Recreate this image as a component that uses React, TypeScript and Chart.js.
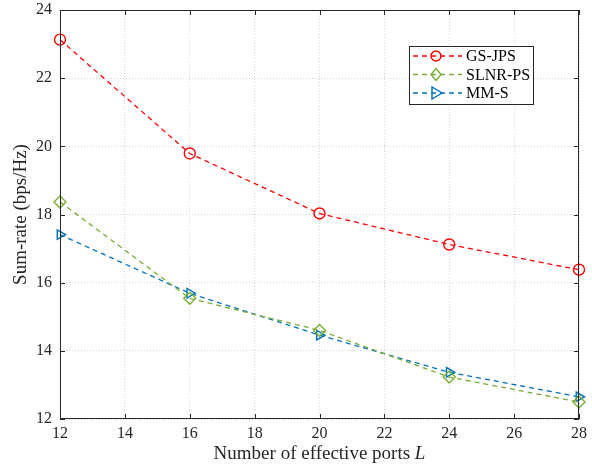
import React, { useEffect, useRef } from "react";
import { Chart, registerables } from "chart.js";

Chart.register(...registerables);

const portsL = [12, 16, 20, 24, 28];
const gsJps = [23.13, 19.79, 18.03, 17.12, 16.38];
const slnrPs = [18.37, 15.54, 14.6, 13.23, 12.5];
const mmS = [17.41, 15.69, 14.46, 13.37, 12.65];
const xTicks = [12, 14, 16, 18, 20, 22, 24, 26, 28];
const yTicks = [12, 14, 16, 18, 20, 22, 24];

const seriesNames = ["GS-JPS", "SLNR-PS", "MM-S"];
const seriesColors = ["#FF0000", "#77AC30", "#0072BD"];
const xTitleMain = "Number of effective ports ";
const xTitleVar = "L";
const yTitle = "Sum-rate (bps/Hz)";
const FONT = "'Liberation Serif', 'Times New Roman', serif";

function drawMarker(ctx: CanvasRenderingContext2D, kind: number, x: number, y: number, color: string) {
  ctx.save();
  ctx.strokeStyle = color;
  ctx.lineWidth = 1.4;
  ctx.setLineDash([]);
  ctx.beginPath();
  if (kind === 0) {
    ctx.arc(x, y, 5, 0, Math.PI * 2);
  } else if (kind === 1) {
    ctx.moveTo(x, y - 6);
    ctx.lineTo(x + 5, y);
    ctx.lineTo(x, y + 6);
    ctx.lineTo(x - 5, y);
    ctx.closePath();
  } else {
    ctx.moveTo(x + 6, y);
    ctx.lineTo(x - 4, y - 6);
    ctx.lineTo(x - 4, y + 6);
    ctx.closePath();
  }
  ctx.stroke();
  ctx.restore();
}

const framePlugin = {
  id: "framePlugin",
  afterDraw(chart: any) {
    const { ctx, chartArea } = chart;
    const { left, right, top, bottom } = chartArea;
    const xs = chart.scales.x;
    const ys = chart.scales.y;
    ctx.save();
    ctx.strokeStyle = "#262626";
    ctx.lineWidth = 1;
    ctx.setLineDash([]);
    ctx.strokeRect(Math.round(left) + 0.5, Math.round(top) + 0.5, Math.round(right - left) - 1, Math.round(bottom - top) - 1);
    ctx.beginPath();
    xTicks.forEach((t) => {
      const px = Math.round(xs.getPixelForValue(t)) + 0.5;
      ctx.moveTo(px, bottom);
      ctx.lineTo(px, bottom - 5);
      ctx.moveTo(px, top);
      ctx.lineTo(px, top + 5);
    });
    yTicks.forEach((t) => {
      const py = Math.round(ys.getPixelForValue(t)) + 0.5;
      ctx.moveTo(left, py);
      ctx.lineTo(left + 5, py);
      ctx.moveTo(right, py);
      ctx.lineTo(right - 5, py);
    });
    ctx.stroke();

    // axis titles
    ctx.fillStyle = "#262626";
    ctx.textBaseline = "middle";
    ctx.font = `19px ${FONT}`;
    const w1 = ctx.measureText(xTitleMain).width;
    ctx.font = `italic 19px ${FONT}`;
    const w2 = ctx.measureText(xTitleVar).width;
    const cx = (left + right) / 2;
    const sx = cx - (w1 + w2) / 2;
    ctx.textAlign = "left";
    ctx.font = `19px ${FONT}`;
    ctx.fillText(xTitleMain, sx, 454);
    ctx.font = `italic 19px ${FONT}`;
    ctx.fillText(xTitleVar, sx + w1, 454);

    ctx.save();
    ctx.translate(21, (top + bottom) / 2);
    ctx.rotate(-Math.PI / 2);
    ctx.textAlign = "center";
    ctx.font = `19px ${FONT}`;
    ctx.fillText(yTitle, 0, 0);
    ctx.restore();

    // legend
    const bx = 409, by = 46, bw = 124, bh = 58;
    ctx.fillStyle = "#ffffff";
    ctx.fillRect(bx, by, bw, bh);
    ctx.strokeStyle = "#262626";
    ctx.lineWidth = 1;
    ctx.strokeRect(bx + 0.5, by + 0.5, bw, bh);
    const rows = [56, 74.5, 93];
    seriesNames.forEach((name, i) => {
      const y = rows[i];
      ctx.strokeStyle = seriesColors[i];
      ctx.lineWidth = 1.3;
      ctx.setLineDash([5, 4]);
      ctx.beginPath();
      ctx.moveTo(413, y);
      ctx.lineTo(462, y);
      ctx.stroke();
      drawMarker(ctx, i, 436, y, seriesColors[i]);
      ctx.fillStyle = "#000000";
      ctx.font = `16px ${FONT}`;
      ctx.textBaseline = "middle";
      ctx.textAlign = "left";
      ctx.fillText(name, 466, y + 1);
    });
    ctx.restore();
  },
};

export default function App() {
  const ref = useRef<HTMLCanvasElement | null>(null);
  useEffect(() => {
    if (!ref.current) return;
    const mk = (i: number, vals: number[], style: string, rot: number) => ({
      label: seriesNames[i],
      data: portsL.map((x, k) => ({ x, y: vals[k] })),
      borderColor: seriesColors[i],
      backgroundColor: "rgba(0,0,0,0)",
      borderWidth: 1.3,
      borderDash: [5, 4],
      pointStyle: style,
      pointRotation: rot,
      pointRadius: i === 1 ? 6 : 5.5,
      pointBorderWidth: 1.4,
      pointBorderColor: seriesColors[i],
      pointBackgroundColor: "rgba(0,0,0,0)",
      tension: 0,
      clip: false as any,
    });
    const chart = new Chart(ref.current, {
      type: "line",
      data: {
        datasets: [
          mk(0, gsJps, "circle", 0),
          mk(1, slnrPs, "rectRot", 0),
          mk(2, mmS, "triangle", 90),
        ],
      },
      options: {
        animation: false,
        responsive: false,
        devicePixelRatio: 1,
        layout: { padding: { top: 10, right: 13, left: 0, bottom: 0 } },
        plugins: { legend: { display: false }, tooltip: { enabled: false } },
        scales: {
          x: {
            type: "linear",
            min: 12,
            max: 28,
            afterBuildTicks: (s: any) => {
              s.ticks = xTicks.map((v) => ({ value: v }));
            },
            afterFit: (s: any) => {
              s.height = 47;
              s.paddingLeft = 0;
              s.paddingRight = 0;
            },
            grid: {
              color: "#d4d4d4",
              lineWidth: 1,
              drawTicks: false,
            },
            border: { display: false, dash: [1, 2] } as any,
            ticks: {
              color: "#262626",
              font: { family: FONT, size: 16 },
              padding: 5,
              maxRotation: 0,
            },
            title: { display: false },
          },
          y: {
            type: "linear",
            min: 12,
            max: 24,
            afterBuildTicks: (s: any) => {
              s.ticks = yTicks.map((v) => ({ value: v }));
            },
            afterFit: (s: any) => {
              s.width = 60;
              s.paddingTop = 0;
              s.paddingBottom = 0;
            },
            grid: {
              color: "#d4d4d4",
              lineWidth: 1,
              drawTicks: false,
            },
            border: { display: false, dash: [1, 2] } as any,
            ticks: {
              color: "#262626",
              font: { family: FONT, size: 16 },
              padding: 8,
            },
            title: { display: false },
          },
        },
      },
      plugins: [framePlugin],
    });
    return () => chart.destroy();
  }, []);
  return (
    <div style={{ position: "fixed", left: 0, top: 0, width: 592, height: 466, background: "#fff" }}>
      <canvas ref={ref} width={592} height={466} style={{ width: 592, height: 466 }} />
    </div>
  );
}
